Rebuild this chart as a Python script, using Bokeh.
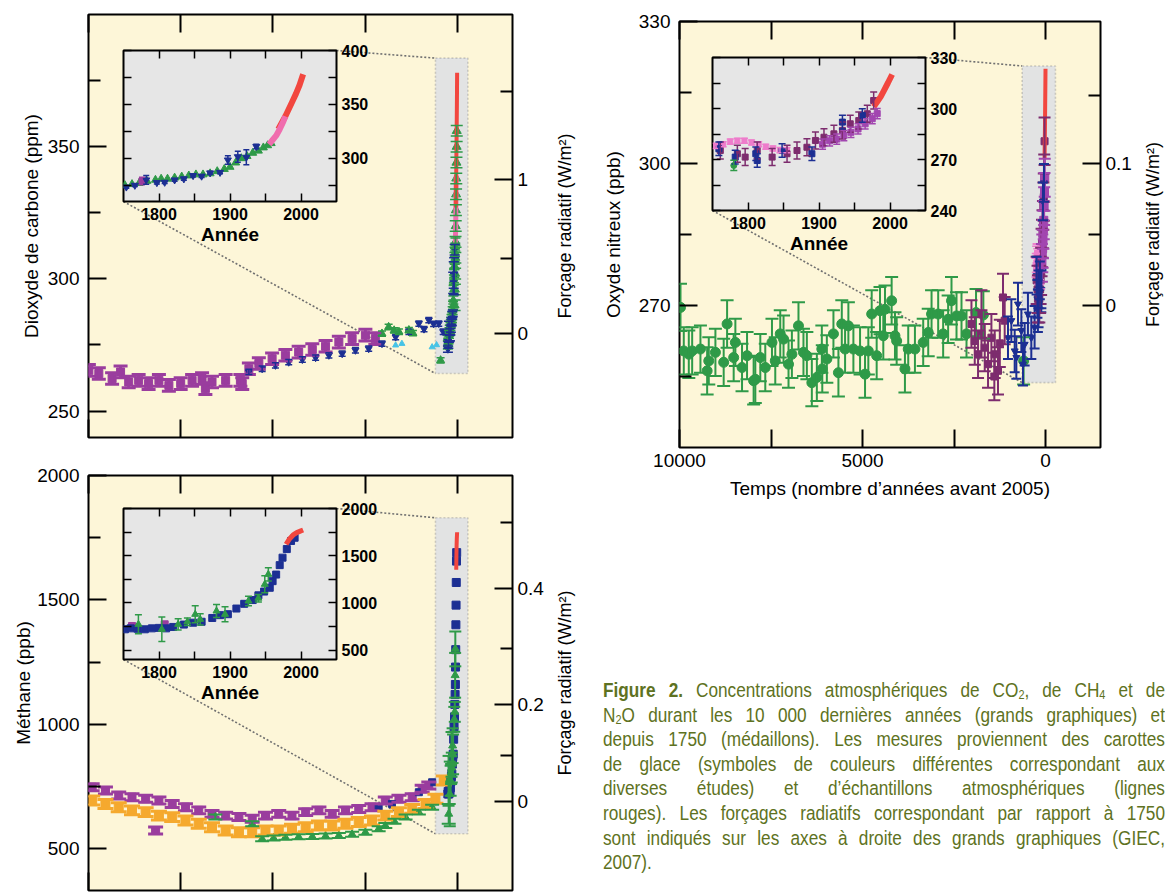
from bokeh.plotting import figure
from bokeh.models import (Range1d, FixedTicker, LinearAxis, ColumnDataSource, Whisker,
                          TeeHead, GridBox, Div, BoxAnnotation)
from bokeh.embed import file_html
from bokeh.resources import INLINE

# ======================= DATA =======================
# --- CO2 main panel (x = years before 2005, y = ppm) ---
co2_purple_ybp = [9990, 9720, 9360, 9130, 8910, 8640, 8370, 8090, 7820, 7500, 7190, 6920, 6830, 6650,
                  6280, 5880, 5830, 5650, 5380, 5020, 4660, 4300, 3930, 3570, 3210, 2850, 2490, 2220]
co2_purple_ppm = [265.4, 264.2, 262.3, 264.8, 261.0, 261.6, 260.4, 261.6, 259.7, 260.4, 261.6, 262.3, 258.5, 261.0,
                  261.6, 261.6, 260.4, 266.0, 268.0, 269.8, 271.1, 272.3, 273.3, 274.5, 276.1, 277.4, 278.7, 277.4]
co2_blue_ybp = [5650, 5290, 4930, 4570, 4200, 3840, 3480, 3120, 2760, 2400, 2040, 1670, 1310, 1040, 900,
                770, 640, 500, 380, 280, 230]
co2_blue_ppm = [264.8, 266.0, 267.3, 268.5, 269.5, 270.2, 271.1, 271.7, 273.0, 273.6, 275.5, 278.0, 280.0, 283.1,
                281.0, 284.4, 283.0, 283.1, 280.0, 276.0, 275.0]
co2_green_ybp = [2040, 1860, 1710, 1580, 1310, 1200, 450]
co2_green_ppm = [279.3, 281.8, 280.5, 280.0, 280.6, 279.5, 269.2]
co2_cyan_ybp = [1670, 1500, 680, 560]
co2_cyan_ppm = [274.9, 275.5, 274.2, 275.0]
co2_spike_green_ybp = [70, 62, 56, 50, 45, 40, 35, 30, 25, 20, 15, 12]
co2_spike_green_ppm = [290, 296, 302, 308, 314, 320, 326, 332, 338, 344, 350, 356]
co2_left_ticks = [250, 275, 300, 325, 350, 375]
co2_left_labels = ["250", "", "300", "", "350", ""]
co2_forcing_ticks = [279.3, 307.7, 337.4, 370.8]          # ppm positions of 0, 0.5, 1, 1.5 W/m2
co2_forcing_labels = ["0", "", "1", ""]

# --- CO2 inset (x = year, y = ppm) ---
co2_in_blue_yr = [1754, 1766, 1782, 1797, 1808, 1822, 1835, 1848, 1860, 1872, 1886, 1897, 1911, 1923, 1937]
co2_in_blue_ppm = [273.4, 275.0, 280.0, 277.5, 277.8, 280.0, 281.0, 284.0, 283.5, 286.5, 287.0, 298.5, 301.5, 301.0, 311.0]
co2_in_blue_err = [1.2, 1.2, 4.0, 1.2, 1.2, 1.2, 1.2, 1.2, 1.2, 1.2, 1.2, 4.0, 5.0, 7.0, 2.0]
co2_in_green_yr = [1752, 1762, 1772, 1783, 1795, 1803, 1812, 1822, 1832, 1842, 1852, 1862, 1872, 1882, 1892,
                   1900, 1908, 1916, 1924, 1932, 1940, 1947, 1953, 1958]
co2_in_green_ppm = [275, 276, 277, 279, 280, 281, 281, 282, 283, 284, 285, 285, 286, 288, 290,
                    292, 296, 300, 302, 305, 307, 310, 312, 314]
co2_in_purple_yr = [1776]
co2_in_purple_ppm = [279]
co2_in_pink_yr = [1955, 1960, 1965, 1970, 1975, 1978]
co2_in_pink_ppm = [313, 317, 321, 327, 334, 339]
co2_in_red_yr = [1968, 1973, 1978, 1983, 1988, 1993, 1998, 2003]
co2_in_red_ppm = [327, 333, 339, 346, 353, 360, 368, 378]

# --- N2O main panel (x = years before 2005, y = ppb) ---
n2o_green_ybp = [9973, 9883, 9746, 9654, 9428, 9245, 9200, 9019, 8793, 8700, 8520, 8474, 8292, 8155, 7975,
                 7929, 7793, 7657, 7474, 7384, 7248, 7158, 7022, 6930, 6750, 6614, 6521, 6385, 6248, 6112,
                 6100, 5975, 5795, 5659, 5567, 5477, 5387, 5250, 5068, 4932, 4842, 4750, 4614, 4523, 4433,
                 4387, 4205, 4114, 4068, 3842, 3752, 3569, 3343, 3206, 3115, 2934, 2798, 2662, 2570, 2433,
                 2297, 2160, 1900, 1700, 600]
n2o_green_ppb = [269.6, 260.4, 259.7, 260.4, 260.8, 256.2, 258.3, 260.1, 258.0, 266.1, 259.0, 262.2, 256.9, 259.4, 254.1,
                 254.4, 259.0, 256.9, 262.2, 258.3, 264.0, 262.9, 257.6, 259.7, 265.7, 260.1, 259.4, 253.7, 254.8, 260.8,
                 256.6, 258.7, 264.0, 255.8, 266.1, 260.8, 265.7, 260.8, 260.4, 255.5, 260.4, 268.2, 259.4, 268.9, 263.6,
                 269.2, 271.0, 263.6, 262.5, 256.6, 260.8, 260.8, 262.2, 264.3, 268.2, 268.2, 264.0, 267.1, 271.0, 267.8,
                 267.8, 264.0, 268.5, 268.0, 258.3]
n2o_maroon_ybp = [2025, 1935, 1845, 1752, 1752, 1662, 1572, 1480, 1400, 1390, 1300, 1250, 1163, 1117]
n2o_maroon_ppb = [266.1, 262.5, 259.7, 264.0, 268.2, 261.1, 257.6, 263.2, 255.0, 259.7, 256.2, 262.0, 271.7, 266.8]
n2o_blue_ybp = [1027, 935, 844, 799, 754, 662, 617, 572, 482, 390, 300, 210, 118]
n2o_blue_ppb = [263.2, 266.8, 260.4, 259.0, 270.3, 264.7, 257.6, 261.8, 268.2, 263.2, 265.4, 268.9, 273.1]
n2o_left_ticks = [255, 270, 285, 300, 315, 330]
n2o_left_labels = ["", "270", "", "300", "", "330"]
n2o_forcing_ticks = [270.1, 284.9, 299.9, 314.4]          # ppb positions of 0, 0.05, 0.1, 0.15 W/m2
n2o_forcing_labels = ["0", "", "0.1", ""]

# --- N2O inset (x = year, y = ppb) ---
n2o_in_pink_yr = [1755, 1765, 1775, 1785, 1795, 1805, 1815, 1825, 1835, 1845, 1855]
n2o_in_pink_ppb = [278, 279, 280.5, 281, 281, 280, 279, 277.5, 276.5, 275.5, 275.5]
n2o_in_maroon_yr = [1761, 1785, 1796, 1813, 1834, 1855, 1869, 1883, 1895, 1907, 1921, 1933, 1944, 1956, 1968, 1977]
n2o_in_maroon_ppb = [275.3, 273.4, 271.4, 275.3, 271.4, 273.4, 275.3, 277.2, 281.2, 283.1, 285.1, 287.1, 291.0,
                     292.9, 296.9, 304.7]
n2o_in_violet_yr = [1905, 1915, 1925, 1935, 1945, 1955, 1965, 1975, 1982]
n2o_in_violet_ppb = [279, 281, 282, 284, 286, 288, 291, 294, 297]
n2o_in_blue_yr = [1759, 1782, 1811, 1813, 1848, 1890, 1933, 1961]
n2o_in_blue_ppb = [276.3, 271.4, 273.4, 269.4, 275.3, 273.4, 292.0, 295.9]
n2o_in_green_yr = [1780]
n2o_in_green_ppb = [266.5]
n2o_in_red_yr = [1977, 1982, 1987, 1992, 1997, 2003]
n2o_in_red_ppb = [301, 304, 307, 311, 315, 320]

# --- CH4 main panel (x = years before 2005, y = ppb) ---
ch4_purple_ybp = [9900, 9540, 9180, 8820, 8450, 8180, 8090, 7730, 7370, 7010, 6650, 6280, 5920, 5560,
                  5200, 4840, 4480, 4110, 3750, 3390, 3030, 2670, 2310, 1950, 1580, 1220, 950, 770]
ch4_purple_ppb = [747, 734, 714, 707, 701, 573, 694, 680, 667, 654, 640, 633, 627, 620,
                  633, 640, 633, 647, 654, 640, 654, 660, 667, 694, 701, 707, 741, 754]
ch4_orange_ybp = [9900, 9540, 9180, 8820, 8450, 8090, 7730, 7370, 7010, 6650, 6280, 5920, 5560, 5200,
                  4840, 4480, 4110, 3750, 3390, 3030, 2670, 2310, 1950, 1580, 1220, 860, 590, 365]
ch4_orange_ppb = [694, 680, 667, 654, 647, 633, 627, 613, 600, 586, 573, 566, 566, 573,
                  573, 580, 586, 593, 593, 600, 607, 613, 633, 647, 660, 680, 701, 774]
ch4_green_ybp = [6560, 5560, 5290, 4980, 4660, 4300, 3930, 3570, 3210, 2850, 2490, 2130, 1950, 1700,
                 1400, 1040, 680, 230]
ch4_green_ppb = [627, 600, 540, 543, 546, 548, 549, 551, 553, 558, 566, 580, 593, 610,
                 627, 647, 667, 640]
ch4_green_err = [10, 10, 10, 10, 10, 10, 10, 10, 10, 10, 10, 10, 10, 10, 10, 10, 10, 40]
ch4_blue_ybp = [2130, 1770, 1040, 680]
ch4_blue_ppb = [667, 680, 727, 767]
ch4_left_ticks = [500, 750, 1000, 1250, 1500, 1750, 2000]
ch4_left_labels = ["500", "", "1000", "", "1500", "", "2000"]
ch4_forcing_ticks = [690, 875, 1078, 1303, 1545, 1812]   # ppb positions of 0 ... 0.5 W/m2
ch4_forcing_labels = ["0", "", "0.2", "", "0.4", ""]

# --- CH4 inset (x = year, y = ppb) ---
ch4_in_blue_yr = [1752, 1760, 1770, 1780, 1790, 1800, 1810, 1820, 1835, 1848, 1860, 1875, 1886, 1897,
                  1909, 1920, 1932, 1940, 1948, 1956, 1960, 1965, 1970, 1974, 1980, 1986, 1991]
ch4_in_blue_ppb = [720, 730, 725, 720, 730, 735, 730, 745, 770, 790, 800, 840, 870, 880,
                   940, 990, 1030, 1080, 1120, 1160, 1230, 1300, 1400, 1479, 1570, 1656, 1690]
ch4_in_green_yr = [1771, 1804, 1827, 1840, 1851, 1858, 1881, 1893, 1926, 1940, 1949, 1954]
ch4_in_green_ppb = [773, 720, 773, 800, 879, 826, 914, 879, 1020, 1050, 1197, 1303]
ch4_in_green_err = [100, 130, 60, 40, 90, 60, 70, 80, 50, 40, 90, 70]
ch4_in_purple_yr = [1762, 1808]
ch4_in_purple_ppb = [755, 773]
ch4_in_red_yr = [1979, 1984, 1989, 1994, 1999, 2003]
ch4_in_red_ppb = [1621, 1680, 1720, 1745, 1760, 1772]

# --- shared ---
main_x_ticks = [10000, 7500, 5000, 2500, 0]
inset_x_ticks = [1800, 1850, 1900, 1950, 2000]
inset_x_labels = ["1800", "", "1900", "", "2000"]
REF_YEAR = 2005
FORCING_TITLE = "Forçage radiatif (W/m²)"

caption_lines = [
    "<b>Figure 2.</b> Concentrations atmosphériques de CO<sub>2</sub>, de CH<sub>4</sub> et de",
    "N<sub>2</sub>O durant les 10 000 dernières années (grands graphiques) et",
    "depuis 1750 (médaillons). Les mesures proviennent des carottes",
    "de glace (symboles de couleurs différentes correspondant aux",
    "diverses études) et d’échantillons atmosphériques (lignes",
    "rouges). Les forçages radiatifs correspondant par rapport à 1750",
    "sont indiqués sur les axes à droite des grands graphiques (GIEC,",
    "2007).",
]

# ======================= STYLE =======================
FONT = "Liberation Sans"
CREAM = "#FDF6D8"
INSET_BG = "#E6E6E6"
BOX_BG = "#E2E3E3"
DOT = "#707070"
PURPLE = "#9A3D9E"
BLUE = "#1C2F93"
GREEN = "#2F9A48"
CYAN = "#46C3E6"
RED = "#F2473F"
PINK = "#F06DAE"
ORANGE = "#F5A92E"
MAROON = "#7D2C6E"
VIOLET = "#A246B0"
LPINK = "#EE7CCB"
CAPTION = "#5E7222"


def ybp(years):
    return [REF_YEAR - y for y in years]


def new_fig(box, frame, xr, yr, bg, outline="black"):
    x0, y0, x1, y1 = box
    fl, ft, fr, fb = frame
    p = figure(width=x1 - x0, height=y1 - y0, x_range=Range1d(*xr), y_range=Range1d(*yr),
               output_backend="svg", toolbar_location=None, title=None,
               x_axis_location=None, y_axis_location=None,
               min_border_left=fl - x0, min_border_right=x1 - fr,
               min_border_top=ft - y0, min_border_bottom=y1 - fb,
               background_fill_color=bg, border_fill_color=None,
               outline_line_color=outline, outline_line_width=2)
    p.grid.visible = False
    return p


def add_axis(p, loc, ticks, labels=None, tick_len=18, minor_len=12, size="19px", bold=False,
             standoff=9, title=None, title_size="19px", title_bold=False, title_standoff=5, lw=2):
    if labels is None:
        major, minor = list(ticks), []
    else:
        major = [t for t, s in zip(ticks, labels) if s]
        minor = [t for t, s in zip(ticks, labels) if not s]
    ax = LinearAxis(ticker=FixedTicker(ticks=major, minor_ticks=minor))
    ax.axis_line_color = None
    ax.major_tick_in = tick_len
    ax.major_tick_out = 0
    ax.minor_tick_in = minor_len
    ax.minor_tick_out = 0
    ax.major_tick_line_width = lw
    ax.minor_tick_line_width = lw
    ax.major_tick_line_color = "black"
    ax.minor_tick_line_color = "black"
    if labels is None:
        ax.major_label_text_color = None
        ax.major_label_text_font_size = "1px"
        ax.major_label_standoff = 0
    else:
        ax.major_label_overrides = {t: s for t, s in zip(ticks, labels) if s}
        ax.major_label_text_font = FONT
        ax.major_label_text_font_size = size
        ax.major_label_text_font_style = "bold" if bold else "normal"
        ax.major_label_text_color = "black"
        ax.major_label_standoff = standoff
    if title:
        ax.axis_label = title
        ax.axis_label_text_font = FONT
        ax.axis_label_text_font_size = title_size
        ax.axis_label_text_font_style = "bold" if title_bold else "normal"
        ax.axis_label_text_color = "black"
        ax.axis_label_standoff = title_standoff
    p.add_layout(ax, loc)
    return ax


def series(p, xs, ys, color, marker, size, err=None, cap=10, lw=1.5):
    if err is not None and not isinstance(err, list):
        err = [err for _ in ys]
    data = dict(x=list(xs), y=list(ys))
    if err is not None:
        data["lo"] = [v - e for v, e in zip(ys, err)]
        data["hi"] = [v + e for v, e in zip(ys, err)]
    src = ColumnDataSource(data)
    if err is not None:
        p.add_layout(Whisker(source=src, base="x", lower="lo", upper="hi", dimension="height",
                             line_color=color, line_width=lw, level="glyph",
                             upper_head=TeeHead(size=cap, line_color=color, line_width=lw),
                             lower_head=TeeHead(size=cap, line_color=color, line_width=lw)))
    p.scatter("x", "y", source=src, marker=marker, size=size, fill_color=color, line_color=color)


def px_to_data(frame, xr, yr, px, py):
    fl, ft, fr, fb = frame
    x = xr[0] + (px - fl) / (fr - fl) * (xr[1] - xr[0])
    y = yr[1] - (py - ft) / (fb - ft) * (yr[1] - yr[0])
    return x, y


def zoom_box(p, frame, xr, yr, inset_frame, box):
    left, right, bottom, top = box
    p.add_layout(BoxAnnotation(left=left, right=right, bottom=bottom, top=top, fill_color=BOX_BG,
                               fill_alpha=1.0, line_color=DOT, line_dash="2 2", line_width=1.6,
                               level="underlay"))
    il, it, ir, ib = inset_frame
    tr = px_to_data(frame, xr, yr, ir, it)
    bl = px_to_data(frame, xr, yr, il, ib)
    p.line([tr[0], left], [tr[1], top], line_color=DOT, line_width=1.6, line_dash="2 2", level="underlay")
    p.line([bl[0], left], [bl[1], bottom], line_color=DOT, line_width=1.6, line_dash="2 2", level="underlay")


def main_axes(p, left_ticks, left_labels, ylabel, rt, rl, l_title_standoff, bottom_labels=False):
    add_axis(p, "above", main_x_ticks)
    if bottom_labels:
        add_axis(p, "below", main_x_ticks, ["10000", "", "5000", "", "0"], minor_len=18, standoff=6,
                 title="Temps (nombre d’années avant 2005)", title_standoff=8)
    else:
        add_axis(p, "below", main_x_ticks)
    add_axis(p, "left", left_ticks, left_labels, title=ylabel, title_standoff=l_title_standoff)
    add_axis(p, "right", rt, rl, standoff=5)


def forcing_title(box, frame_left, standoff):
    """Transparent strip whose left-axis title gives the bottom-to-top right-hand title."""
    x0, y0, x1, y1 = box
    p = new_fig(box, (frame_left, y0, x1, y1), (0, 1), (0, 1), None, outline=None)
    add_axis(p, "left", [], None, tick_len=0, minor_len=0, title=FORCING_TITLE, title_size="18px",
             title_standoff=standoff)
    return p


def inset_axes(p, y_ticks, y_labels):
    add_axis(p, "above", inset_x_ticks, None, tick_len=8, lw=1.5)
    add_axis(p, "left", y_ticks, None, tick_len=8, lw=1.5)
    add_axis(p, "right", y_ticks, y_labels, tick_len=8, minor_len=8, size="16px", bold=True, standoff=5, lw=1.5)
    add_axis(p, "below", inset_x_ticks, inset_x_labels, tick_len=8, minor_len=8, size="16px", bold=True,
             standoff=6, title="Année", title_bold=True, title_standoff=1, lw=1.5)


items = []
MAIN_X = (10000, -1500)
INSET_X = (1750, 2050)

# ---------------- CO2 main ----------------
CO2_BOX, CO2_FRAME, CO2_Y = (0, 0, 592, 447), (88, 14, 512, 437), (240, 400)
CO2_IN_BOX, CO2_IN_FRAME, CO2_IN_Y = (121, 40, 381, 255), (123, 50, 336, 201), (260, 400)
p = new_fig(CO2_BOX, CO2_FRAME, MAIN_X, CO2_Y, CREAM)
main_axes(p, co2_left_ticks, co2_left_labels, "Dioxyde de carbone (ppm)", co2_forcing_ticks,
          co2_forcing_labels, 3)
zoom_box(p, CO2_FRAME, MAIN_X, CO2_Y, CO2_IN_FRAME, (590, -290, 264.2, 383.5))
series(p, co2_purple_ybp, co2_purple_ppm, PURPLE, "square", 8, err=2.2, cap=14, lw=3)
series(p, co2_blue_ybp, co2_blue_ppm, BLUE, "inverted_triangle", 7, err=1.0, cap=7)
series(p, co2_cyan_ybp, co2_cyan_ppm, CYAN, "triangle", 6)
series(p, co2_green_ybp, co2_green_ppm, GREEN, "triangle", 8, err=1.0, cap=8)
series(p, ybp(co2_in_green_yr), co2_in_green_ppm, GREEN, "triangle", 8, err=1.5, cap=10)
series(p, co2_spike_green_ybp, co2_spike_green_ppm, GREEN, "triangle", 9, err=2.0, cap=12)
series(p, ybp(co2_in_blue_yr), co2_in_blue_ppm, BLUE, "inverted_triangle", 7, err=co2_in_blue_err, cap=10)
p.line(ybp(co2_in_pink_yr), co2_in_pink_ppm, line_color=PINK, line_width=5)
p.line(ybp(co2_in_red_yr), co2_in_red_ppm, line_color=RED, line_width=4)
items.append((p, CO2_BOX))
CO2_T = (540, 14, 590, 437)
items.append((forcing_title(CO2_T, 575, 1), CO2_T))

pi = new_fig(CO2_IN_BOX, CO2_IN_FRAME, INSET_X, CO2_IN_Y, INSET_BG)
inset_axes(pi, [275, 300, 325, 350, 375, 400], ["", "300", "", "350", "", "400"])
series(pi, co2_in_green_yr, co2_in_green_ppm, GREEN, "triangle", 8)
series(pi, co2_in_purple_yr, co2_in_purple_ppm, PURPLE, "square", 6, err=3.5, cap=6)
series(pi, co2_in_blue_yr, co2_in_blue_ppm, BLUE, "inverted_triangle", 7, err=co2_in_blue_err, cap=6)
pi.line(co2_in_red_yr, co2_in_red_ppm, line_color=RED, line_width=6)
pi.line(co2_in_pink_yr, co2_in_pink_ppm, line_color=PINK, line_width=6)
items.append((pi, CO2_IN_BOX))

# ---------------- N2O main ----------------
N2O_BOX, N2O_FRAME, N2O_Y = (592, 1, 1165, 508), (679, 21, 1100, 447), (240, 330)
N2O_IN_BOX, N2O_IN_FRAME, N2O_IN_Y = (710, 47, 970, 262), (712, 57, 925, 210), (240, 330)
p = new_fig(N2O_BOX, N2O_FRAME, MAIN_X, N2O_Y, CREAM)
main_axes(p, n2o_left_ticks, n2o_left_labels, "Oxyde nitreux (ppb)", n2o_forcing_ticks,
          n2o_forcing_labels, 12, bottom_labels=True)
zoom_box(p, N2O_FRAME, MAIN_X, N2O_Y, N2O_IN_FRAME, (640, -270, 253.7, 320.6))
series(p, n2o_green_ybp, n2o_green_ppb, GREEN, "circle", 10, err=5.0, cap=13, lw=2)
series(p, n2o_maroon_ybp, n2o_maroon_ppb, MAROON, "square", 7, err=5.0, cap=12, lw=2)
series(p, n2o_blue_ybp, n2o_blue_ppb, BLUE, "inverted_triangle", 7, err=4.5, cap=10, lw=2)
series(p, ybp(n2o_in_pink_yr), n2o_in_pink_ppb, LPINK, "square", 6, err=2.0, cap=10)
series(p, ybp(n2o_in_maroon_yr), n2o_in_maroon_ppb, MAROON, "square", 7, err=5.0, cap=12, lw=2)
series(p, ybp(n2o_in_violet_yr), n2o_in_violet_ppb, VIOLET, "square", 8, err=4.0, cap=12, lw=2)
series(p, ybp(n2o_in_blue_yr), n2o_in_blue_ppb, BLUE, "inverted_triangle", 7, err=4.0, cap=10, lw=2)
p.line(ybp(n2o_in_red_yr), n2o_in_red_ppb, line_color=RED, line_width=4)
items.append((p, N2O_BOX))
N2O_T = (1114, 22, 1164, 446)
items.append((forcing_title(N2O_T, 1162, 0), N2O_T))

pi = new_fig(N2O_IN_BOX, N2O_IN_FRAME, INSET_X, N2O_IN_Y, INSET_BG)
inset_axes(pi, [240, 255, 270, 285, 300, 315, 330], ["240", "", "270", "", "300", "", "330"])
series(pi, n2o_in_pink_yr, n2o_in_pink_ppb, LPINK, "square", 5, err=1.5, cap=7)
series(pi, n2o_in_maroon_yr, n2o_in_maroon_ppb, MAROON, "square", 6, err=5.0, cap=7)
series(pi, n2o_in_violet_yr, n2o_in_violet_ppb, VIOLET, "square", 6, err=3.0, cap=7)
series(pi, n2o_in_blue_yr, n2o_in_blue_ppb, BLUE, "square", 6, err=4.0, cap=7)
series(pi, n2o_in_green_yr, n2o_in_green_ppb, GREEN, "circle", 6, err=3.0, cap=7)
pi.line(n2o_in_red_yr, n2o_in_red_ppb, line_color=RED, line_width=6)
items.append((pi, N2O_IN_BOX))

# ---------------- CH4 main ----------------
CH4_BOX, CH4_FRAME, CH4_Y = (0, 461, 592, 892), (88, 475, 512, 890), (332, 2000)
CH4_IN_BOX, CH4_IN_FRAME, CH4_IN_Y = (121, 498, 381, 713), (123, 508, 336, 659), (400, 2000)
p = new_fig(CH4_BOX, CH4_FRAME, MAIN_X, CH4_Y, CREAM)
main_axes(p, ch4_left_ticks, ch4_left_labels, "Méthane (ppb)", ch4_forcing_ticks,
          ch4_forcing_labels, 0)
zoom_box(p, CH4_FRAME, MAIN_X, CH4_Y, CH4_IN_FRAME, (590, -290, 560, 1830))
series(p, ch4_purple_ybp, ch4_purple_ppb, PURPLE, "square", 8, err=14, cap=15, lw=3)
series(p, ch4_orange_ybp, ch4_orange_ppb, ORANGE, "square", 9, err=18, cap=16, lw=3)
series(p, ch4_green_ybp, ch4_green_ppb, GREEN, "triangle", 8, err=ch4_green_err, cap=14, lw=2)
series(p, ch4_blue_ybp, ch4_blue_ppb, BLUE, "square", 7)
series(p, ybp(ch4_in_blue_yr), ch4_in_blue_ppb, BLUE, "square", 8)
series(p, ybp(ch4_in_green_yr), ch4_in_green_ppb, GREEN, "triangle", 8, err=ch4_in_green_err, cap=12, lw=2)
p.line(ybp(ch4_in_red_yr), ch4_in_red_ppb, line_color=RED, line_width=4)
items.append((p, CH4_BOX))
CH4_T = (540, 475, 590, 890)
items.append((forcing_title(CH4_T, 575, 1), CH4_T))

pi = new_fig(CH4_IN_BOX, CH4_IN_FRAME, INSET_X, CH4_IN_Y, INSET_BG)
inset_axes(pi, [500, 750, 1000, 1250, 1500, 1750, 2000], ["500", "", "1000", "", "1500", "", "2000"])
series(pi, ch4_in_purple_yr, ch4_in_purple_ppb, PURPLE, "square", 7)
series(pi, ch4_in_blue_yr, ch4_in_blue_ppb, BLUE, "square", 7)
series(pi, ch4_in_green_yr, ch4_in_green_ppb, GREEN, "triangle", 7, err=ch4_in_green_err, cap=7)
pi.line(ch4_in_red_yr, ch4_in_red_ppb, line_color=RED, line_width=5)
items.append((pi, CH4_IN_BOX))

# ---------------- caption ----------------
CAP_BOX = (598, 673, 1160, 892)
SX = 0.84
cap_w = CAP_BOX[2] - CAP_BOX[0]
rows_html = []
for i, line in enumerate(caption_lines):
    last = "left" if i == len(caption_lines) - 1 else "justify"
    rows_html.append(f'<div style="text-align:justify;text-align-last:{last};white-space:nowrap;">{line}</div>')
cap = Div(text=(f'<div style="font-family:\'Liberation Sans\',Arial,sans-serif;'
                f'font-size:20.5px;line-height:24.6px;color:{CAPTION};width:{cap_w / SX:.1f}px;'
                f'transform:scaleX({SX});transform-origin:0 0;">'
                + "".join(rows_html) + "</div>"),
          width=cap_w, height=CAP_BOX[3] - CAP_BOX[1],
          stylesheets=["sub{font-size:13px;line-height:0;vertical-align:-2px;}"])
items.append((cap, CAP_BOX))

# ---------------- overlapping grid layout ----------------
xb = sorted({0} | {b[0] for _, b in items} | {b[2] for _, b in items})
yb = sorted({0} | {b[1] for _, b in items} | {b[3] for _, b in items})
cols = [f"{b - a}px" for a, b in zip(xb, xb[1:])]
rows = [f"{b - a}px" for a, b in zip(yb, yb[1:])]
children = []
for m, (x0, y0, x1, y1) in items:
    r0, c0 = yb.index(y0), xb.index(x0)
    children.append((m, r0, c0, yb.index(y1) - r0, xb.index(x1) - c0))
layout = GridBox(children=children, rows=rows, cols=cols, spacing=0)

open("out.html", "w").write(file_html(layout, INLINE))
